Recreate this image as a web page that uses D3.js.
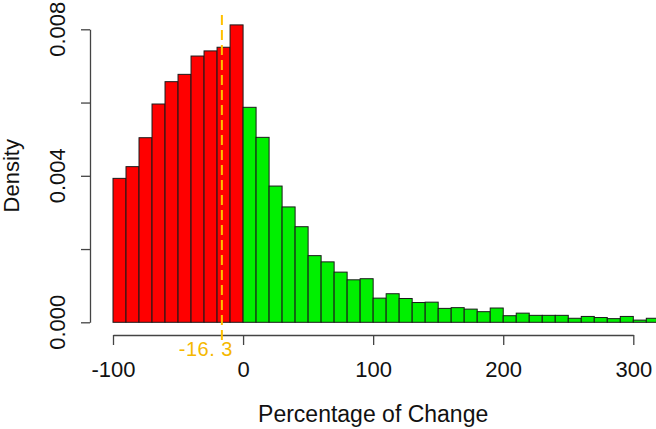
<!DOCTYPE html>
<meta charset="utf-8">
<style>
  body { margin: 0; background: #fff; }
  text { font-family: "Liberation Sans", Arial, sans-serif; }
</style>
<script src="https://d3js.org/d3.v7.min.js"></script>
<div id="chart"></div>
<script>
  // histogram bins (lower edge, width 10) and densities
  var binStarts = [-100, -90, -80, -70, -60, -50, -40, -30, -20, -10,
    0, 10, 20, 30, 40, 50, 60, 70, 80, 90,
    100, 110, 120, 130, 140, 150, 160, 170, 180, 190,
    200, 210, 220, 230, 240, 250, 260, 270, 280, 290,
    300, 310];
  var density = [0.00393, 0.00425, 0.00504, 0.00596, 0.00657, 0.00677, 0.00727, 0.00741, 0.00751, 0.00812,
    0.00587, 0.00505, 0.00372, 0.00315, 0.00261, 0.00182, 0.00165, 0.00137, 0.00116, 0.00119,
    0.00066, 0.00078, 0.00065, 0.00054, 0.00055, 0.00038, 0.00040, 0.00036, 0.00029, 0.00039,
    0.00018, 0.00025, 0.00019, 0.00019, 0.00019, 0.00011, 0.00016, 0.00013, 0.00010, 0.00016,
    0.00006, 0.00011];
  var binWidth = 10;
  var xTicks = [-100, 0, 100, 200, 300];
  var yTicks = [0, 0.002, 0.004, 0.006, 0.008];
  var yLabels = [0, 0.004, 0.008];
  var median = -16.3;

  var width = 656, height = 429;

  var svg = d3.select("#chart")
    .append("svg")
    .attr("width", width)
    .attr("height", height);

  var x = d3.scaleLinear().domain([-100, 300]).range([113, 633.3]);
  var y = d3.scaleLinear().domain([0, 0.008]).range([322.3, 29.3]);

  var bins = binStarts.map(function (b, i) {
    return { x0: b, x1: b + binWidth, d: density[i] };
  });

  // bars
  svg.selectAll("rect.bar")
    .data(bins)
    .enter()
    .append("rect")
    .attr("class", "bar")
    .attr("x", function (d) { return x(d.x0); })
    .attr("width", function (d) { return x(d.x1) - x(d.x0); })
    .attr("y", function (d) { return y(d.d); })
    .attr("height", function (d) { return y(0) - y(d.d); })
    .attr("fill", function (d) { return d.x0 < 0 ? "#ff0000" : "#00f000"; })
    .attr("stroke", "#1a1a1a")
    .attr("stroke-width", 1);

  // x axis (plain hyphen for negatives, like R)
  var xAxis = svg.append("g")
    .attr("transform", "translate(0,335)")
    .call(d3.axisBottom(x).tickValues(xTicks).tickSize(10).tickSizeOuter(0)
      .tickFormat(function (d) { return String(d); }));
  xAxis.select(".domain").attr("stroke", "#444").attr("stroke-width", 1.3);
  xAxis.selectAll(".tick line").attr("stroke", "#444").attr("stroke-width", 1.3);
  xAxis.selectAll(".tick text")
    .attr("fill", "#111")
    .style("font-size", "22px")
    .attr("y", 0)
    .attr("dy", 0)
    .attr("transform", "translate(0,42)");

  // y axis
  var yAxis = svg.append("g")
    .attr("transform", "translate(90,0)")
    .call(d3.axisLeft(y).tickValues(yTicks).tickSize(9).tickSizeOuter(0).tickFormat(""));
  yAxis.select(".domain").attr("stroke", "#444").attr("stroke-width", 1.3);
  yAxis.selectAll(".tick line").attr("stroke", "#444").attr("stroke-width", 1.3);

  svg.selectAll("text.ylab")
    .data(yLabels)
    .enter()
    .append("text")
    .attr("class", "ylab")
    .attr("transform", function (d) { return "translate(65," + y(d) + ") rotate(-90)"; })
    .attr("text-anchor", "middle")
    .attr("fill", "#111")
    .style("font-size", "22px")
    .text(function (d) { return d3.format(".3f")(d); });

  // axis titles
  svg.append("text")
    .attr("x", x(100))
    .attr("y", 422)
    .attr("text-anchor", "middle")
    .attr("fill", "#111")
    .style("font-size", "23px")
    .text("Percentage of Change");

  svg.append("text")
    .attr("transform", "translate(19," + (y(0) + y(0.008)) / 2 + ") rotate(-90)")
    .attr("text-anchor", "middle")
    .attr("fill", "#111")
    .style("font-size", "22px")
    .text("Density");

  // median marker
  svg.append("line")
    .attr("x1", x(median))
    .attr("x2", x(median))
    .attr("y1", 15)
    .attr("y2", 340)
    .attr("stroke", "#ffc000")
    .attr("stroke-width", 2)
    .attr("stroke-dasharray", "10,5");

  svg.append("text")
    .attr("x", x(median) - 16)
    .attr("y", 356)
    .attr("text-anchor", "middle")
    .attr("fill", "#f5b800")
    .style("font-size", "20px")
    .style("letter-spacing", "0.5px")
    .text("-16. 3");
</script>
